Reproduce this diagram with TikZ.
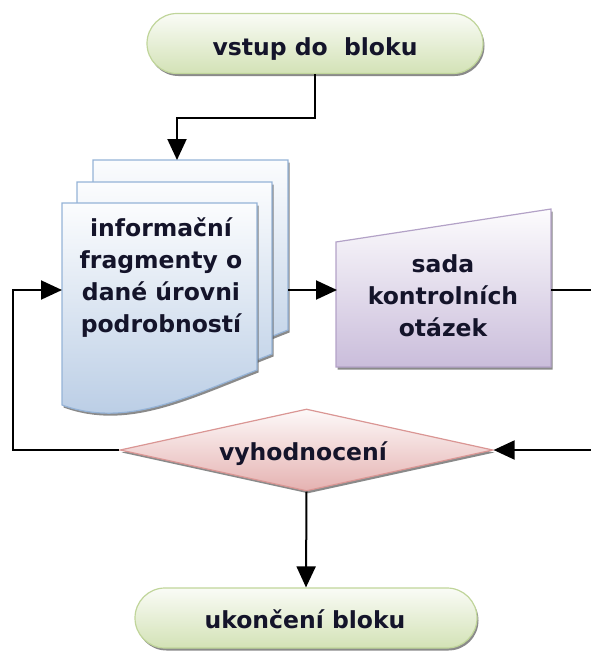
\documentclass[tikz,border=0pt]{standalone}
\usepackage{fontspec}
\setmainfont{DejaVu Sans}
\usetikzlibrary{arrows.meta,shapes.geometric,shapes.misc,shadows}

\definecolor{termfill}{HTML}{D3E2B6}
\definecolor{termline}{HTML}{C0D59A}
\definecolor{docfill}{HTML}{B7CBE4}
\definecolor{docline}{HTML}{95B3D7}
\definecolor{qfill}{HTML}{CABDDB}
\definecolor{qline}{HTML}{B3A2C7}
\definecolor{decfill}{HTML}{E5B2B1}
\definecolor{decline}{HTML}{DA9694}
\definecolor{ink}{HTML}{14142A}

\begin{document}
\begin{tikzpicture}[x=1pt,y=-1pt,
  boxshadow/.style={drop shadow={shadow xshift=1.5pt,shadow yshift=-2.5pt,fill=black!70,opacity=.65}},
  termbox/.style={rounded rectangle, minimum width=336pt, minimum height=60pt,
    inner sep=0pt, draw=termline, line width=1.2pt,
    top color=termfill!12, bottom color=termfill, boxshadow},
  decbox/.style={diamond, minimum width=373pt, minimum height=82pt, inner sep=0pt,
    draw=decline, line width=1.2pt, top color=decfill!8, bottom color=decfill, boxshadow},
  docpage/.style={draw=docline, line width=1.2pt, top color=docfill!5,
    bottom color=docfill, boxshadow},
  qbox/.style={draw=qline, line width=1.2pt, top color=qfill!5, bottom color=qfill, boxshadow},
  caption/.style={font=\fontsize{23.5}{32}\selectfont\bfseries, text=ink, align=center, inner sep=0pt},
  conn/.style={line width=2pt, draw=black},
  arrowconn/.style={conn, -{Triangle[length=21pt,width=19pt]}}
]
\clip (0,0) rectangle (591,654);

% start and end terminals, decision diamond
\node[termbox] (start) at (315,43.5) {};
\node[termbox, minimum width=342pt] (stop) at (306,618) {};
\node[decbox] (eval) at (306.5,450) {};

% stack of document pages (back to front)
\path[docpage] (93,160) -- (288,160) -- (288,330)
  .. controls (216,358) and (156,388) .. (93,365) -- cycle;
\path[docpage] (77,182) -- (272,182) -- (272,354)
  .. controls (200,382) and (140,412) .. (77,389) -- cycle;
\path[docpage] (62,203) -- (257,203) -- (257,370)
  .. controls (185,398) and (125,428) .. (62,405) -- cycle;

% manual input block
\path[qbox] (336,242) -- (551,209) -- (551,367) -- (336,367) -- cycle;

% texts
\node[caption, anchor=base] (startText) at (315,55) {vstup do\ \ bloku};
\node[caption] (docText) at (161,278) {informační\\fragmenty o\\dané úrovni\\podrobností};
\node[caption] (qText) at (443,296) {sada\\kontrolních\\otázek};
\node[caption, anchor=base] (evalText) at (303,460) {vyhodnocení};
\node[caption, anchor=base] (stopText) at (305,628) {ukončení bloku};

% connector anchor points
\coordinate (bend) at (315,118);
\coordinate (docTop) at (177,160);
\coordinate (docL) at (62,290);
\coordinate (docR) at (288,290);
\coordinate (qL) at (337,290);
\coordinate (qR) at (551,290);
\coordinate (outR) at (610,290);
\coordinate (loopTop) at (13,290);

% connectors
\draw[arrowconn] (start.south) -- (bend) -| (docTop);
\draw[arrowconn] (docR) -- (qL);
\draw[arrowconn] (qR) -- (outR) |- (eval.east);
\draw[arrowconn] (eval.west) -| (loopTop) -- (docL);
\draw[arrowconn] (eval.south) -- (stop.north);
\end{tikzpicture}
\end{document}
